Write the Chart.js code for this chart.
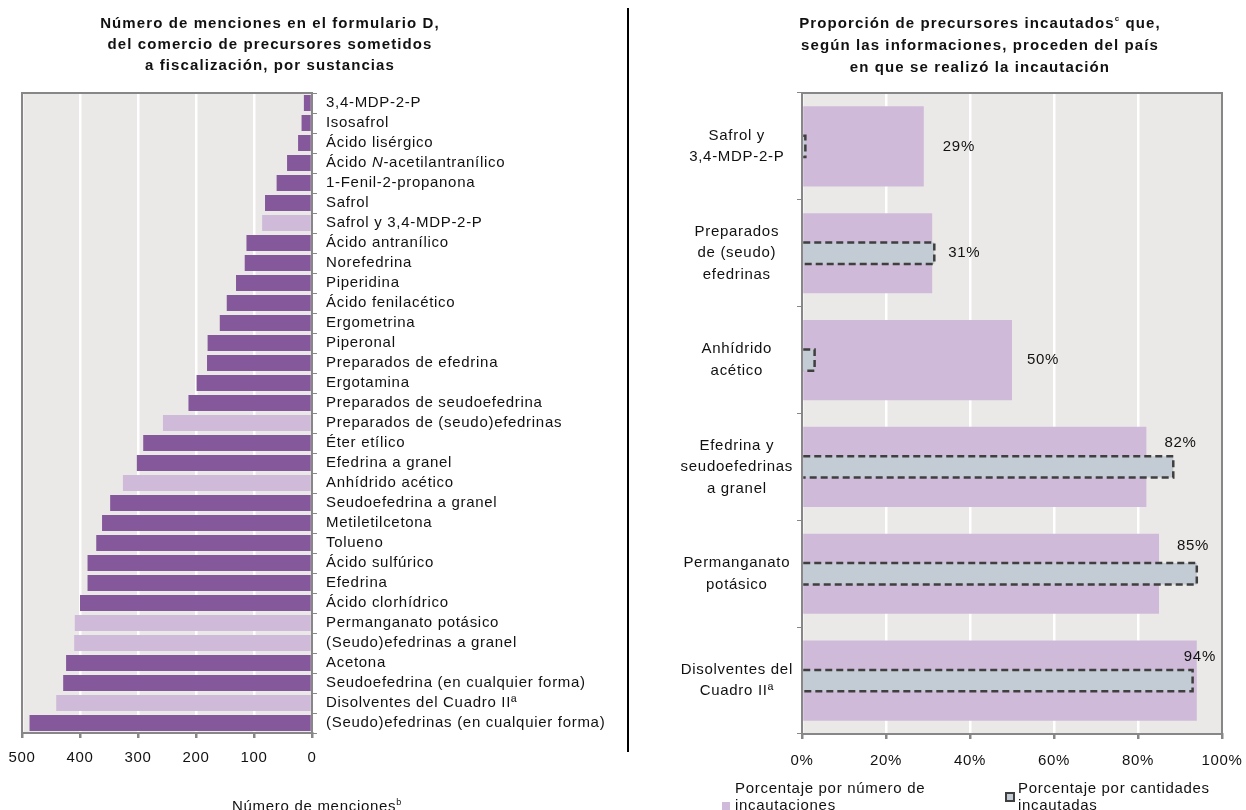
<!DOCTYPE html>
<html>
<head>
<meta charset="utf-8">
<script src="https://cdn.jsdelivr.net/npm/chart.js@4"></script>
<style>
  html,body{margin:0;padding:0;background:#fff;}
  body{width:1246px;height:810px;overflow:hidden;position:relative;font-family:"Liberation Sans",Arial,sans-serif;letter-spacing:0.7px;color:#111;}
  .title{position:absolute;font-weight:bold;font-size:15px;letter-spacing:1.1px;line-height:21px;text-align:center;white-space:nowrap;}
  .title sup{font-size:8px;vertical-align:7px;line-height:0;}
  #c1wrap{position:absolute;left:0;top:0;width:630px;height:810px;}
  #c2wrap{position:absolute;left:630px;top:0;width:616px;height:810px;}
  #divider{position:absolute;left:627px;top:8px;width:2px;height:744px;background:#000;}
  .axt{position:absolute;font-size:15px;line-height:17px;white-space:nowrap;text-align:center;}
  .axt sup{font-size:9px;vertical-align:6px;line-height:0;}
  .leg{position:absolute;font-size:15px;line-height:17px;white-space:nowrap;}
  .sw{position:absolute;}
</style>
</head>
<body>
<div id="c1wrap"><canvas id="c1" width="630" height="810"></canvas></div>
<div id="c2wrap"><canvas id="c2" width="616" height="810"></canvas></div>
<div id="divider"></div>

<div class="title" style="left:70px;top:12px;width:400px;">Número de menciones en el formulario D,<br>del comercio de precursores sometidos<br>a fiscalización, por sustancias</div>
<div class="title" style="left:780px;top:12px;width:400px;line-height:22px;">Proporción de precursores incautados<sup>c</sup> que,<br>según las informaciones, proceden del país<br>en que se realizó la incautación</div>

<div class="axt" style="left:117px;top:797px;width:400px;">Número de menciones<sup>b</sup></div>

<div class="sw" style="left:722px;top:802px;width:8px;height:8px;background:#cfbbd9;"></div>
<div class="leg" style="left:735px;top:779px;">Porcentaje por número de<br>incautaciones</div>
<div class="sw" style="left:1005px;top:792px;width:6px;height:6px;background:#c3ccd4;border:2px dashed #3f3f3f;"></div>
<div class="leg" style="left:1018px;top:779px;">Porcentaje por cantidades<br>incautadas</div>

<script>
// ---------------- DATA ----------------
const substances = [
  "3,4-MDP-2-P","Isosafrol","Ácido lisérgico","Ácido N-acetilantranílico","1-Fenil-2-propanona",
  "Safrol","Safrol y 3,4-MDP-2-P","Ácido antranílico","Norefedrina","Piperidina",
  "Ácido fenilacético","Ergometrina","Piperonal","Preparados de efedrina","Ergotamina",
  "Preparados de seudoefedrina","Preparados de (seudo)efedrinas","Éter etílico","Efedrina a granel","Anhídrido acético",
  "Seudoefedrina a granel","Metiletilcetona","Tolueno","Ácido sulfúrico","Efedrina",
  "Ácido clorhídrico","Permanganato potásico","(Seudo)efedrinas a granel","Acetona","Seudoefedrina (en cualquier forma)",
  "Disolventes del Cuadro IIª","(Seudo)efedrinas (en cualquier forma)"
];
const mentions = [
  14,18,24,43,61,
  81,86,113,116,131,
  147,159,180,181,199,
  213,257,291,302,326,
  348,362,372,387,387,
  400,409,410,424,429,
  441,487
];
// substances that are combined groups (shown in the lighter shade)
const combinedGroups = ["Safrol y 3,4-MDP-2-P","Preparados de (seudo)efedrinas","Anhídrido acético",
  "Permanganato potásico","(Seudo)efedrinas a granel","Disolventes del Cuadro IIª"];
const mentionTicks = [0,100,200,300,400,500];

const origins = [
  ["Safrol y","3,4-MDP-2-P"],
  ["Preparados","de (seudo)","efedrinas"],
  ["Anhídrido","acético"],
  ["Efedrina y","seudoefedrinas","a granel"],
  ["Permanganato","potásico"],
  ["Disolventes del","Cuadro IIª"]
];
const pctBySeizures = [29,31,50,82,85,94];
const pctByQuantity = [0.8,31.5,3,88.4,94,93];
const pctTicks = [0,20,40,60,80,100];

// ---------------- STYLE ----------------
const FONT = '"Liberation Sans", Arial, sans-serif';
const SPACING = '0.7px';
const DARK = '#84589b', LIGHT = '#cfbbd9', GREYBAR = '#c3ccd4';
const PLOTBG = '#ebe9e7', AXIS = '#878787';
const labelShift = [[19,0],[16,0],[15,0],[18,-24],[18,-28],[-13,-24]];
Chart.defaults.font.family = FONT;
Chart.defaults.font.size = 15;
Chart.defaults.color = '#111';

const spacingPlugin = {
  id:'spacing',
  beforeLayout(c){ c.ctx.letterSpacing = SPACING; },
  beforeDraw(c){ c.ctx.letterSpacing = SPACING; }
};
const plotBg = {
  id:'plotBg',
  beforeDraw(c){
    const a = c.chartArea, ctx = c.ctx;
    ctx.save(); ctx.fillStyle = PLOTBG;
    ctx.fillRect(a.left, a.top, a.right - a.left, a.bottom - a.top);
    ctx.restore();
  },
  afterDraw(c){
    const a = c.chartArea, ctx = c.ctx;
    ctx.save(); ctx.strokeStyle = AXIS; ctx.lineWidth = 2;
    ctx.strokeRect(a.left, a.top, a.right - a.left, a.bottom - a.top);
    ctx.restore();
  }
};

const italicIdx = substances.indexOf("Ácido N-acetilantranílico");
const italicLabel = {
  id:'italicLabel',
  afterDraw(c){
    const s = c.scales.y, ctx = c.ctx;
    const y = s.getPixelForTick(italicIdx);
    let x = s.left + 5 + 9;
    ctx.save();
    ctx.letterSpacing = SPACING;
    ctx.fillStyle = '#111'; ctx.textBaseline = 'middle'; ctx.textAlign = 'left';
    const parts = [["Ácido ",'normal'],["N",'italic'],["-acetilantranílico",'normal']];
    for (const [t, st] of parts){
      ctx.font = st + ' 15px ' + FONT;
      ctx.fillText(t, x, y);
      x += ctx.measureText(t).width;
    }
    ctx.restore();
  }
};

new Chart(document.getElementById('c1'), {
  type:'bar',
  data:{
    labels: substances,
    datasets:[{
      data: mentions,
      backgroundColor: substances.map(s => combinedGroups.includes(s) ? LIGHT : DARK),
      borderWidth:0,
      barPercentage:0.8,
      categoryPercentage:1.0
    }]
  },
  options:{
    indexAxis:'y',
    responsive:false,
    animation:false,
    events:[],
    layout:{padding:{left:22, top:93, right:0, bottom:0}},
    plugins:{legend:{display:false}, tooltip:{enabled:false}, title:{display:false}},
    scales:{
      x:{
        type:'linear', reverse:true, min:0, max:500,
        afterBuildTicks(s){ s.ticks = mentionTicks.map(v => ({value:v})); },
        ticks:{color:'#111', padding:11, font:{size:15}},
        grid:{color:'#ffffff', lineWidth:2.5, tickColor:AXIS, tickLength:5, drawTicks:true},
        border:{color:AXIS, width:2},
        afterFit(s){ s.height = 77; s.paddingLeft = 0; s.paddingRight = 0; }
      },
      y:{
        position:'right',
        ticks:{
          autoSkip:false, padding:9, font:{size:15},
          color:(ctx) => ctx.index === italicIdx ? 'rgba(0,0,0,0)' : '#111'
        },
        grid:{drawOnChartArea:false, offset:true, tickColor:AXIS, tickLength:5},
        border:{color:AXIS, width:2},
        afterFit(s){ s.width = 318; }
      }
    }
  },
  plugins:[spacingPlugin, plotBg, italicLabel]
});

const dashedBars = {
  id:'dashedBars',
  afterDatasetsDraw(c){
    const ctx = c.ctx;
    const meta = c.getDatasetMeta(1);
    ctx.save();
    ctx.strokeStyle = '#3f3f3f'; ctx.lineWidth = 2.5; ctx.setLineDash([7,4]);
    meta.data.forEach(el => {
      const p = el.getProps(['x','y','base','height'], true);
      const top = p.y - p.height/2, bot = p.y + p.height/2;
      ctx.beginPath();
      ctx.moveTo(p.base, top); ctx.lineTo(p.x, top); ctx.lineTo(p.x, bot); ctx.lineTo(p.base, bot);
      ctx.stroke();
    });
    ctx.restore();
    const m0 = c.getDatasetMeta(0);
    ctx.save();
    ctx.letterSpacing = SPACING;
    ctx.font = '15px ' + FONT; ctx.fillStyle = '#111';
    ctx.textAlign = 'left'; ctx.textBaseline = 'middle';
    m0.data.forEach((el, i) => {
      const p = el.getProps(['x','y'], true);
      ctx.fillText(pctBySeizures[i] + '%', p.x + labelShift[i][0], p.y + labelShift[i][1]);
    });
    ctx.restore();
  }
};

new Chart(document.getElementById('c2'), {
  type:'bar',
  data:{
    labels: origins,
    datasets:[
      {label:'Porcentaje por número de incautaciones', data:pctBySeizures, backgroundColor:LIGHT,
       borderWidth:0, barPercentage:0.75, categoryPercentage:1.0, grouped:false, order:1},
      {label:'Porcentaje por cantidades incautadas', data:pctByQuantity, backgroundColor:GREYBAR,
       borderWidth:0, barPercentage:0.2, categoryPercentage:1.0, grouped:false, order:0}
    ]
  },
  options:{
    indexAxis:'y',
    responsive:false,
    animation:false,
    events:[],
    layout:{padding:{left:0, top:93, right:24, bottom:0}},
    plugins:{legend:{display:false}, tooltip:{enabled:false}, title:{display:false}},
    scales:{
      x:{
        type:'linear', min:0, max:100,
        afterBuildTicks(s){ s.ticks = pctTicks.map(v => ({value:v})); },
        ticks:{color:'#111', padding:13, font:{size:15}, callback:(v) => v + '%'},
        grid:{color:'#ffffff', lineWidth:2.5, tickColor:AXIS, tickLength:5, drawTicks:true},
        border:{color:AXIS, width:2},
        afterFit(s){ s.height = 76; s.paddingLeft = 0; s.paddingRight = 0; }
      },
      y:{
        position:'left',
        ticks:{autoSkip:false, padding:4, crossAlign:'center', color:'#111', font:{size:15, lineHeight:1.43}},
        grid:{drawOnChartArea:false, offset:true, tickColor:AXIS, tickLength:5},
        border:{color:AXIS, width:2},
        afterFit(s){ s.width = 172; }
      }
    }
  },
  plugins:[spacingPlugin, plotBg, dashedBars]
});
</script>
</body>
</html>
